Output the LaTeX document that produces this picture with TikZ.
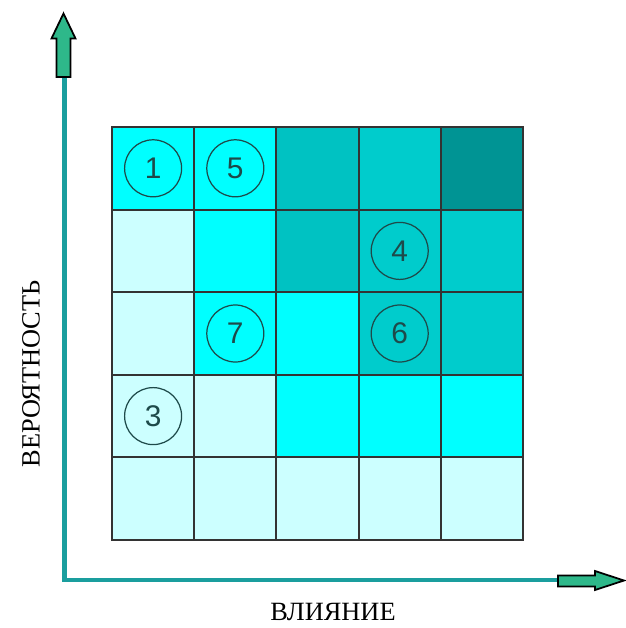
\documentclass[tikz,border=0pt]{standalone}
\usepackage{fontspec}
\setmainfont{Liberation Serif}
\newfontfamily\numfont{Liberation Sans}
\usetikzlibrary{calc}

\definecolor{celllight}{HTML}{CCFFFF}
\definecolor{cellcyan}{HTML}{00FFFF}
\definecolor{cellmid}{HTML}{00C2C2}
\definecolor{cellteal}{HTML}{00CCCC}
\definecolor{celldark}{HTML}{009494}
\definecolor{axisline}{HTML}{1A9E9E}
\definecolor{arrowgreen}{HTML}{2EB88A}
\definecolor{markink}{HTML}{1E4A4A}

\tikzset{
  cell/.style = {draw = black!80, line width = 1.1pt, minimum width = 82.2*0.02cm,
    minimum height = 82.6*0.02cm, inner sep = 0pt, outer sep = 0pt},
  risk/.style = {circle, draw = markink, line width = 0.7pt, minimum size = 57*0.02cm,
    inner sep = 0pt, text = markink, font = \numfont\fontsize{17}{18}\selectfont},
  axislabel/.style = {font = \fontsize{15}{17}\selectfont, inner sep = 0pt}
}

\begin{document}
\begin{tikzpicture}[x = 0.02cm, y = -0.02cm]
\useasboundingbox (0, 0) rectangle (625, 628);

\foreach \row/\cols in {1/{cellcyan,cellcyan,cellmid,cellteal,celldark},
                        2/{celllight,cellcyan,cellmid,cellteal,cellteal},
                        3/{celllight,cellcyan,cellcyan,cellteal,cellteal},
                        4/{celllight,celllight,cellcyan,cellcyan,cellcyan},
                        5/{celllight,celllight,celllight,celllight,celllight}}
  \foreach \c [count = \col] in \cols
    \node[cell, fill = \c] (c\row\col) at ({112 + 82.2*(\col - 0.5)}, {127 + 82.6*(\row - 0.5)}) {};

\node[risk] (r1) at (c11) {1};
\node[risk] (r5) at (c12) {5};
\node[risk] (r4) at (c24) {4};
\node[risk] (r7) at (c32) {7};
\node[risk] (r6) at (c34) {6};
\node[risk] (r3) at (c41) {3};

\coordinate (origin) at (64.5, 580);
\coordinate (ytip) at (64.5, 30);
\coordinate (xtip) at (600, 580);
\draw[axisline, line width = 2.3pt] (ytip) |- (xtip);

\draw[fill = arrowgreen, line width = 1pt, line join = miter]
	(56.5, 77) -- (56.5, 38.5) -- (51.5, 38.5) -- (63.5, 13.5) --
	(75.5, 38.5) -- (70.5, 38.5) -- (70.5, 77) -- cycle;
\draw[fill = arrowgreen, line width = 1pt, line join = miter]
	(558, 575.5) -- (595, 575.5) -- (595, 571) -- (624, 580.5) --
	(595, 590) -- (595, 586.5) -- (558, 586.5) -- cycle;

\node[axislabel, rotate = 90] (ylabel) at (31, 374) {ВЕРОЯТНОСТЬ};
\node[axislabel] (xlabel) at (333, 612) {ВЛИЯНИЕ};
\end{tikzpicture}
\end{document}
